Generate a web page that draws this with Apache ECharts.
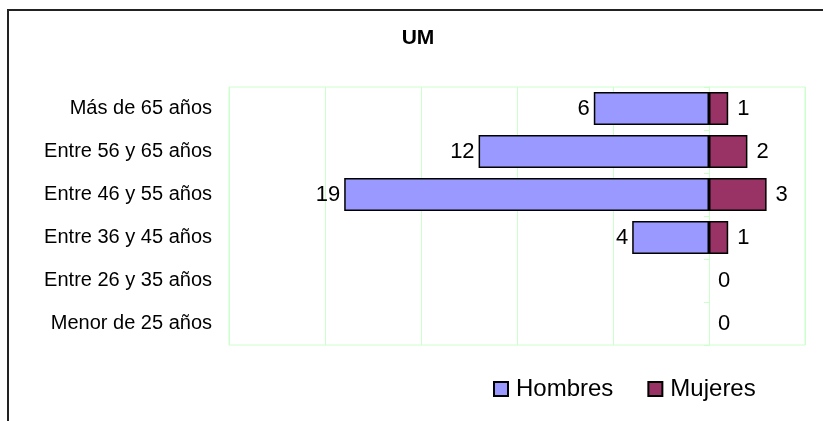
<!DOCTYPE html>
<html>
<head>
<meta charset="utf-8">
<script src="https://cdn.jsdelivr.net/npm/echarts@6/dist/echarts.min.js"></script>
<style>
html,body{margin:0;padding:0;background:#fff;}
#main{width:823px;height:421px;}
</style>
</head>
<body>
<div id="main"></div>
<script>
// datos del grafico (de abajo a arriba, como el eje de categorias)
var categorias = ['Menor de 25 años', 'Entre 26 y 35 años', 'Entre 36 y 45 años', 'Entre 46 y 55 años', 'Entre 56 y 65 años', 'Más de 65 años'];
var hombres = [0, 0, 4, 19, 12, 6];
var mujeres = [0, 0, 1, 3, 2, 1];
var ejeTicks = [-25, -20, -15, -10, -5, 0, 5];

var fuente = "'Liberation Sans', Arial, sans-serif";
var verde = '#ccffcc';

// barras de valor 0 sin borde (solo queda la etiqueta)
function puntos(valores, signo) {
	return valores.map(function (v) {
		var item = { value: signo * v };
		if (v === 0) item.itemStyle = { borderWidth: 0 };
		return item;
	});
}

var myChart = echarts.init(document.getElementById('main'));

var option = {
	animation: false,
	backgroundColor: '#fff',
	textStyle: { fontFamily: fuente, color: '#000' },
	graphic: [{
		type: 'rect',
		shape: { x: 8, y: 10, width: 1000, height: 1000 },
		style: { fill: 'none', stroke: '#222', lineWidth: 2 },
		silent: true
	}],
	title: {
		text: 'UM',
		left: 413,
		top: 23,
		textAlign: 'center',
		textStyle: { fontFamily: fuente, fontSize: 21, fontWeight: 'bold', color: '#000' }
	},
	legend: {
		data: ['Hombres', 'Mujeres'],
		left: 493,
		top: 377,
		padding: 0,
		icon: 'rect',
		itemWidth: 14,
		itemHeight: 14,
		itemGap: 34,
		textStyle: { fontFamily: fuente, fontSize: 24, color: '#000', padding: [0, 0, 0, 3] }
	},
	grid: {
		left: 229,
		right: 18,
		top: 87,
		bottom: 76,
		show: true,
		borderColor: verde,
		borderWidth: 1,
		containLabel: false
	},
	xAxis: {
		type: 'value',
		min: ejeTicks[0],
		max: ejeTicks[ejeTicks.length - 1],
		interval: 5,
		axisLine: { show: false },
		axisTick: { show: false },
		axisLabel: { show: false },
		splitLine: { show: true, lineStyle: { color: verde, width: 1 } }
	},
	yAxis: [{
		type: 'category',
		data: categorias,
		position: 'left',
		axisLine: { show: false, onZero: false },
		axisTick: { show: false },
		axisLabel: { margin: 17, fontSize: 20, fontFamily: fuente, color: '#000' }
	}, {
		type: 'category',
		data: categorias,
		position: 'right',
		axisLine: { show: true, onZero: true, onZeroAxisIndex: 0, lineStyle: { color: verde } },
		axisTick: { show: true, inside: true, length: 5, lineStyle: { color: verde } },
		axisLabel: { show: false }
	}],
	series: [{
		name: 'Hombres',
		type: 'bar',
		stack: 'total',
		barWidth: 33,
		data: puntos(hombres, -1),
		itemStyle: { color: '#9999ff', borderColor: '#000', borderWidth: 1.5 },
		label: {
			show: true,
			position: 'left',
			distance: 4,
			fontSize: 22,
			fontFamily: fuente,
			color: '#000',
			formatter: function (p) { return p.value === 0 ? '' : Math.abs(p.value); }
		}
	}, {
		name: 'Mujeres',
		type: 'bar',
		stack: 'total',
		barWidth: 33,
		data: puntos(mujeres, 1),
		itemStyle: { color: '#993366', borderColor: '#000', borderWidth: 1.5 },
		label: {
			show: true,
			position: 'right',
			distance: 9,
			fontSize: 22,
			fontFamily: fuente,
			color: '#000'
		}
	}]
};

myChart.setOption(option);
</script>
</body>
</html>
